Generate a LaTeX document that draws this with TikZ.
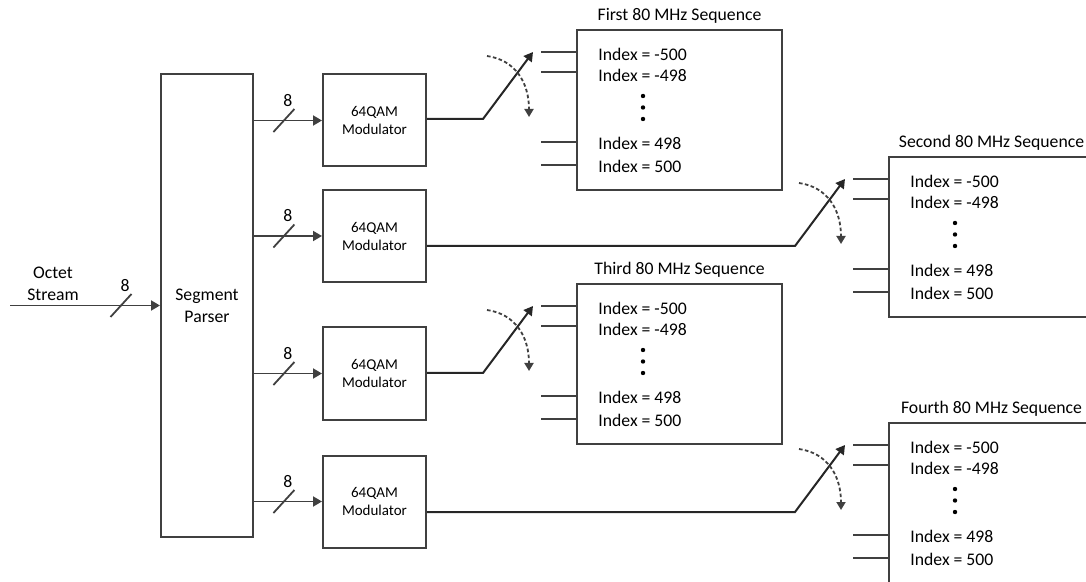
\documentclass[tikz,border=0pt]{standalone}
\usepackage{fontspec}
\setmainfont{Carlito}
\usetikzlibrary{arrows.meta,calc,positioning}
\definecolor{linegray}{RGB}{64,64,64}

% bus width mark: slash over a connector plus its width label
\newcommand{\busmark}[1]{%
  \draw[bus] ($(#1)+(-10.5,11.5)$) -- ($(#1)+(10.5,-11.5)$);
  \node[inner sep=0pt] (#1lbl) at ($(#1)+(4,-20)$) {8};}

\begin{document}
\begin{tikzpicture}[x=0.5pt, y=-0.5pt,
  font=\fontsize{8.85}{11}\selectfont,
  block/.style={draw=linegray, line width=1pt, inner sep=0pt, align=center},
  parserbox/.style={block, minimum width=46pt, minimum height=231.5pt},
  modbox/.style={block, minimum width=51.5pt, minimum height=46pt,
    font=\fontsize{7.5}{9}\selectfont},
  seqbox/.style={block, minimum width=102.5pt, minimum height=80pt},
  seqtitle/.style={inner sep=0pt},
  idx/.style={inner sep=0pt, anchor=west},
  arrow/.style={-{Triangle[length=4.5pt, width=5pt]}, line width=0.9pt, draw=linegray},
  wire/.style={-{Triangle[length=4.5pt, width=5pt]}, line width=1pt, draw=black!85},
  stub/.style={line width=0.9pt, draw=linegray},
  swing/.style={-{Triangle[length=4pt, width=4.5pt]}, line width=0.9pt, draw=linegray,
    dash pattern=on 1.8pt off 1.2pt},
  bus/.style={line width=0.9pt, draw=linegray}
]
  \useasboundingbox (0,0) rectangle (1086,582);

  \node[parserbox] (parser) at (207,305.5) {Segment\\Parser};
  \node[align=center, inner sep=0pt] (octet) at (53,284) {Octet\\Stream};
  \coordinate (in) at (10,305.5);

  \node[modbox] (mod1) at (374.5,120.5) {64QAM\\Modulator};
  \node[modbox] (mod2) at (374.5,236) {64QAM\\Modulator};
  \node[modbox] (mod3) at (374.5,373.5) {64QAM\\Modulator};
  \node[modbox] (mod4) at (374.5,501.5) {64QAM\\Modulator};

  \node[seqbox] (seq1) at (679.5,110) {};
  \node[seqbox] (seq2) at (991.5,237) {};
  \node[seqbox] (seq3) at (679.5,364) {};
  \node[seqbox] (seq4) at (991.5,503) {};

  \node[seqtitle, above=2.5pt of seq1] (title1) {First 80 MHz Sequence};
  \node[seqtitle, above=2.5pt of seq2] (title2) {Second 80 MHz Sequence};
  \node[seqtitle, above=2.5pt of seq3] (title3) {Third 80 MHz Sequence};
  \node[seqtitle, above=2.5pt of seq4] (title4) {Fourth 80 MHz Sequence};

  % octet stream into the parser
  \draw[arrow] (in) -- coordinate[pos=0.74] (bin) (parser);
  \busmark{bin}

  \foreach \i in {1,...,4} {
    \draw[arrow] (parser.east |- mod\i.west) -- coordinate[pos=0.44] (b\i) (mod\i.west);
    \busmark{b\i}
    % switch towards the sequence inputs
    \coordinate (pv\i) at ($(seq\i.north west)+(-93,90)$);
    \coordinate (tp\i) at ($(seq\i.north west)+(-43,23)$);
    \draw[wire] (mod\i.east |- pv\i) -- (pv\i) -- (tp\i);
    \draw[swing] ($(tp\i)+(-46,4)$) .. controls +(28,4) and +(0,-35) .. ($(tp\i)+(-4,65)$);
    % inputs and indices
    \foreach \o in {23,43,113,136}
      \draw[stub] ($(seq\i.north west)+(0,\o)$) -- ++(-35,0);
    \node[idx] (s\i a) at ($(seq\i.north west)+(22,25)$) {Index = -500};
    \node[idx] (s\i b) at ($(seq\i.north west)+(22,46)$) {Index = -498};
    \node[idx] (s\i c) at ($(seq\i.north west)+(22,114)$) {Index = 498};
    \node[idx] (s\i d) at ($(seq\i.north west)+(22,137)$) {Index = 500};
    \foreach \d in {67,78.5,90}
      \fill ($(seq\i.north west)+(67,\d)$) circle (2.2);
  }
\end{tikzpicture}
\end{document}
